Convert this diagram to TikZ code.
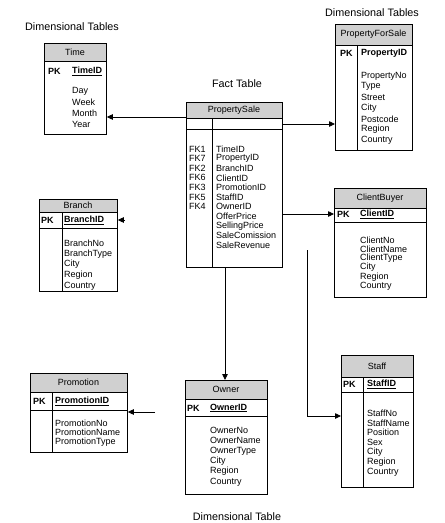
\documentclass[tikz,border=0pt]{standalone}
\usepackage{fontspec}
\setmainfont{Liberation Sans}
\usetikzlibrary{arrows.meta}
\definecolor{hdrgray}{RGB}{208,208,208}
\begin{document}
\begin{tikzpicture}[x=1pt,y=-1pt,
  ln/.style={line width=0.8pt},
  box/.style={draw, ln, inner sep=0pt, anchor=north west},
  txt/.style={inner sep=0pt, anchor=west, font=\fontsize{9}{10}\selectfont},
  key/.style={txt, font=\fontsize{9}{10}\selectfont\bfseries},
  ttl/.style={inner sep=0pt, font=\fontsize{9}{10}\selectfont},
  lbl/.style={inner sep=0pt, font=\fontsize{10.8}{12}\selectfont},
  arr/.style={draw, ln, -{Triangle[length=6pt,width=5.5pt]}}]
\useasboundingbox (0,0) rectangle (445,523);

% ---------- labels ----------
\node[lbl] (lbltl) at (72,27) {Dimensional Tables};
\node[lbl] (lbltr) at (372,13) {Dimensional Tables};
\node[lbl] (lblfact) at (237,84) {Fact Table};
\node[lbl] (lblbot) at (237,517) {Dimensional Table};

% ---------- Time ----------
\fill[hdrgray] (44,43) rectangle (106,61);
\node[box, minimum width=62pt, minimum height=91pt] (time) at (44,43) {};
\draw[ln] (44,61) -- (106,61);
\node[ttl] (time-t) at (75,52) {Time};
\node[key] (time-pk) at (48,71) {PK};
\node[key] (time-k) at (72,71) {\underline{TimeID}};
\foreach \t [count=\i] in {Day,Week,Month,Year}
  \node[txt] (time-\i) at (72,{80+11*\i}) {\t};

% ---------- PropertySale (fact) ----------
\fill[hdrgray] (186,102) rectangle (282,118);
\node[box, minimum width=96pt, minimum height=165pt] (fact) at (186,102) {};
\draw[ln] (186,118) -- (282,118);
\draw[ln] (186,129) -- (282,129);
\draw[ln] (212,118) -- (212,267);
\node[ttl] (fact-t) at (234,110) {PropertySale};
\foreach \t [count=\i] in {FK1,FK7,FK2,FK6,FK3,FK5,FK4}
  \node[txt] (factfk-\i) at (189,{139.4+9.6*\i}) {\t};
\foreach \t [count=\i] in {TimeID,PropertyID,BranchID,ClientID,PromotionID,StaffID,OwnerID,OfferPrice,SellingPrice,SaleComission,SaleRevenue}
  \node[txt] (fact-\i) at (216,{139.4+9.6*\i}) {\t};

% ---------- PropertyForSale ----------
\fill[hdrgray] (335,24) rectangle (412,45);
\node[box, minimum width=77pt, minimum height=126pt] (pfs) at (335,24) {};
\draw[ln] (335,45) -- (412,45);
\draw[ln] (357,45) -- (357,150);
\node[ttl] (pfs-t) at (373.5,34.5) {PropertyForSale};
\node[key] (pfs-pk) at (340,53) {PK};
\node[key] (pfs-k) at (361,53) {PropertyID};
\foreach \t [count=\i] in {PropertyNo,Type,Street,City,Postcode,Region,Country}
  \node[txt] (pfs-\i) at (361,{65.3+10.7*\i}) {\t};

% ---------- Branch ----------
\fill[hdrgray] (39,199) rectangle (117,212);
\node[box, minimum width=78pt, minimum height=92pt] (branch) at (39,199) {};
\draw[ln] (39,212) -- (117,212);
\draw[ln] (39,228) -- (117,228);
\draw[ln] (62,212) -- (62,291);
\node[ttl] (branch-t) at (78,205.5) {Branch};
\node[key] (branch-pk) at (41,220) {PK};
\node[key] (branch-k) at (64,220) {\underline{BranchID}};
\foreach \t [count=\i] in {BranchNo,BranchType,City,Region,Country}
  \node[txt] (branch-\i) at (64,{232.3+10.7*\i}) {\t};

% ---------- ClientBuyer ----------
\fill[hdrgray] (334,188) rectangle (426,208);
\node[box, minimum width=92pt, minimum height=109pt] (client) at (334,188) {};
\draw[ln] (334,208) -- (426,208);
\draw[ln] (334,222) -- (426,222);
\node[ttl] (client-t) at (380,198) {ClientBuyer};
\node[key] (client-pk) at (337,214) {PK};
\node[key] (client-k) at (360,214) {\underline{ClientID}};
\foreach \t [count=\i] in {ClientNo,ClientName,ClientType,City,Region,Country}
  \node[txt] (client-\i) at (360,{230.8+9.2*\i}) {\t};

% ---------- Promotion ----------
\fill[hdrgray] (30,373) rectangle (127,392);
\node[box, minimum width=97pt, minimum height=79pt] (promo) at (30,373) {};
\draw[ln] (30,392) -- (127,392);
\draw[ln] (30,410) -- (127,410);
\draw[ln] (52,392) -- (52,452);
\node[ttl] (promo-t) at (78.5,382.5) {Promotion};
\node[key] (promo-pk) at (33,401) {PK};
\node[key] (promo-k) at (55,401) {\underline{PromotionID}};
\foreach \t [count=\i] in {PromotionNo,PromotionName,PromotionType}
  \node[txt] (promo-\i) at (55,{413.5+9.5*\i}) {\t};

% ---------- Owner ----------
\fill[hdrgray] (185,380) rectangle (267,399);
\node[box, minimum width=82pt, minimum height=114pt] (owner) at (185,380) {};
\draw[ln] (185,399) -- (267,399);
\draw[ln] (185,416) -- (267,416);
\node[ttl] (owner-t) at (226,389.5) {Owner};
\node[key] (owner-pk) at (187,408) {PK};
\node[key] (owner-k) at (210,408) {\underline{OwnerID}};
\foreach \t [count=\i] in {OwnerNo,OwnerName,OwnerType,City,Region,Country}
  \node[txt] (owner-\i) at (210,{419.6+10.4*\i}) {\t};

% ---------- Staff ----------
\fill[hdrgray] (341,355) rectangle (413,377);
\node[box, minimum width=72pt, minimum height=132pt] (staff) at (341,355) {};
\draw[ln] (341,377) -- (413,377);
\draw[ln] (341,392) -- (413,392);
\draw[ln] (363,377) -- (363,487);
\node[ttl] (staff-t) at (377,366) {Staff};
\node[key] (staff-pk) at (343,384) {PK};
\node[key] (staff-k) at (367,384) {\underline{StaffID}};
\foreach \t [count=\i] in {StaffNo,StaffName,Position,Sex,City,Region,Country}
  \node[txt] (staff-\i) at (367,{403.2+9.8*\i}) {\t};

% ---------- connectors ----------
\coordinate (brtail) at (125,220);
\coordinate (prtail) at (155,412);
\coordinate (sttail) at (307,250);
\draw[arr] (fact.west |- 0,117) -- (time.east |- 0,117);
\draw[arr] (fact.east |- 0,124) -- (pfs.west |- 0,124);
\draw[arr] (fact.east |- 0,214) -- (client.west |- 0,214);
\draw[arr] (fact.south -| 225,0) -- (owner.north -| 225,0);
\draw[arr] (brtail) -- (branch.east |- brtail);
\draw[arr] (prtail) -- (promo.east |- prtail);
\draw[arr] (sttail) |- (staff.west |- 0,416);
\end{tikzpicture}
\end{document}
